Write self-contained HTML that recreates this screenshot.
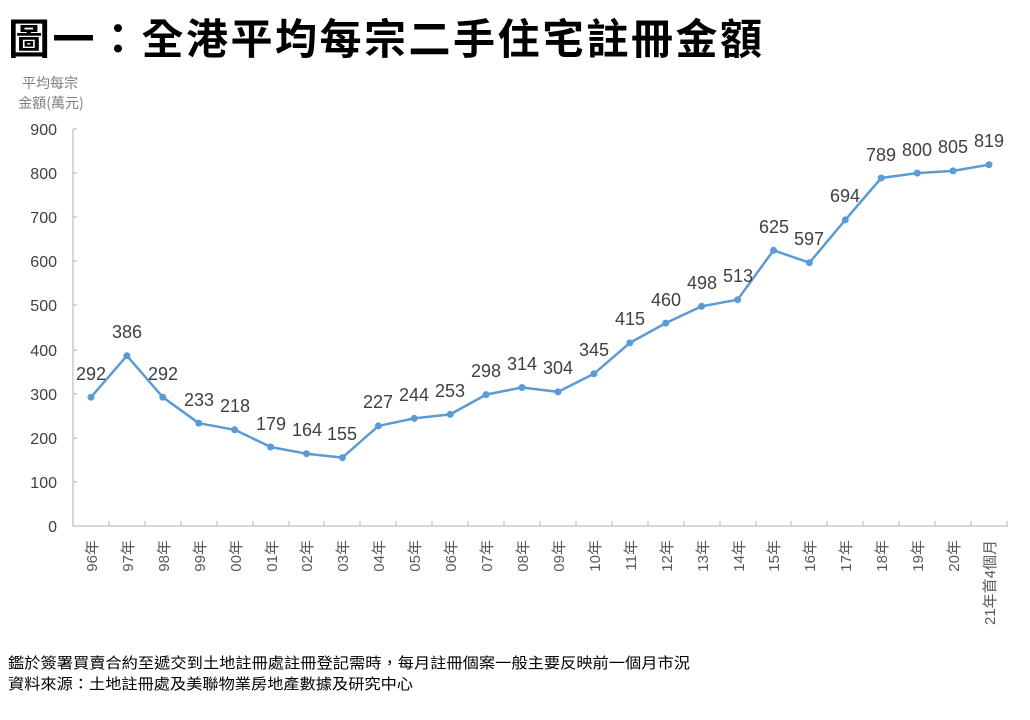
<!DOCTYPE html>
<html><head><meta charset="utf-8"><style>
body{margin:0;background:#fff;width:1030px;height:715px;overflow:hidden;font-family:"Liberation Sans","Noto Sans CJK TC",sans-serif}
</style></head><body>
<svg width="1030" height="715" viewBox="0 0 1030 715" xmlns="http://www.w3.org/2000/svg" font-family="Liberation Sans, Noto Sans CJK TC, sans-serif">
<text x="8" y="54" font-size="42" font-weight="bold" fill="#000" textLength="754" lengthAdjust="spacing" font-family="Noto Sans CJK TC, sans-serif">圖一：全港平均每宗二手住宅註冊金額</text>
<text x="50" y="88" font-size="14" fill="#7f7f7f" text-anchor="middle" font-family="Noto Sans CJK TC, sans-serif">平均每宗</text>
<text x="51" y="108" font-size="14" fill="#7f7f7f" text-anchor="middle" font-family="Noto Sans CJK TC, sans-serif">金額(萬元)</text>
<g font-size="16" fill="#404040" text-anchor="end">
<text x="57" y="135">900</text><text x="57" y="179">800</text><text x="57" y="223">700</text><text x="57" y="267">600</text><text x="57" y="311">500</text><text x="57" y="356">400</text><text x="57" y="400">300</text><text x="57" y="444">200</text><text x="57" y="488">100</text><text x="57" y="532">0</text>
</g>
<g stroke="#bfbfbf" stroke-width="1.2" fill="none">
<path d="M73 129V526H1008"/>
<path d="M73 129h4M73 173h4M73 217h4M73 261h4M73 305h4M73 350h4M73 394h4M73 438h4M73 482h4"/>
<path d="M109 526v-5M145 526v-5M181 526v-5M217 526v-5M253 526v-5M289 526v-5M324 526v-5M360 526v-5M396 526v-5M432 526v-5M468 526v-5M504 526v-5M540 526v-5M576 526v-5M612 526v-5M648 526v-5M684 526v-5M720 526v-5M756 526v-5M791 526v-5M827 526v-5M863 526v-5M899 526v-5M935 526v-5M971 526v-5M1007 526v-5"/>
</g>
<polyline fill="none" stroke="#5b9bd5" stroke-width="2.5" stroke-linejoin="round" points="91,397.2 126.9,355.7 162.8,397.2 198.8,423.2 234.7,429.8 270.6,447 306.5,453.7 342.4,457.6 378.4,425.9 414.3,418.4 450.2,414.4 486.1,394.6 522,387.5 558,391.9 593.9,373.8 629.8,342.9 665.7,323.1 701.6,306.3 737.6,299.7 773.5,250.3 809.4,262.7 845.3,219.9 881.2,178 917.2,173.1 953.1,170.9 989,164.7"/>
<g fill="#5b9bd5">
<circle cx="91" cy="397.2" r="3.5"/><circle cx="126.9" cy="355.7" r="3.5"/><circle cx="162.8" cy="397.2" r="3.5"/><circle cx="198.8" cy="423.2" r="3.5"/><circle cx="234.7" cy="429.8" r="3.5"/><circle cx="270.6" cy="447" r="3.5"/><circle cx="306.5" cy="453.7" r="3.5"/><circle cx="342.4" cy="457.6" r="3.5"/><circle cx="378.4" cy="425.9" r="3.5"/><circle cx="414.3" cy="418.4" r="3.5"/><circle cx="450.2" cy="414.4" r="3.5"/><circle cx="486.1" cy="394.6" r="3.5"/><circle cx="522" cy="387.5" r="3.5"/><circle cx="558" cy="391.9" r="3.5"/><circle cx="593.9" cy="373.8" r="3.5"/><circle cx="629.8" cy="342.9" r="3.5"/><circle cx="665.7" cy="323.1" r="3.5"/><circle cx="701.6" cy="306.3" r="3.5"/><circle cx="737.6" cy="299.7" r="3.5"/><circle cx="773.5" cy="250.3" r="3.5"/><circle cx="809.4" cy="262.7" r="3.5"/><circle cx="845.3" cy="219.9" r="3.5"/><circle cx="881.2" cy="178" r="3.5"/><circle cx="917.2" cy="173.1" r="3.5"/><circle cx="953.1" cy="170.9" r="3.5"/><circle cx="989" cy="164.7" r="3.5"/>
</g>
<g font-size="18" fill="#404040" text-anchor="middle">
<text x="91" y="380">292</text><text x="127" y="338">386</text><text x="163" y="380">292</text><text x="199" y="406">233</text><text x="235" y="412">218</text><text x="271" y="430">179</text><text x="307" y="436">164</text><text x="342" y="440">155</text><text x="378" y="408">227</text><text x="414" y="401">244</text><text x="450" y="397">253</text><text x="486" y="377">298</text><text x="522" y="370">314</text><text x="558" y="374">304</text><text x="594" y="356">345</text><text x="630" y="325">415</text><text x="666" y="306">460</text><text x="702" y="289">498</text><text x="738" y="282">513</text><text x="774" y="233">625</text><text x="809" y="245">597</text><text x="845" y="202">694</text><text x="881" y="161">789</text><text x="917" y="156">800</text><text x="953" y="153">805</text><text x="989" y="147">819</text>
</g>
<g font-size="15" fill="#595959" text-anchor="end">
<text transform="translate(97,540) rotate(-90)">96年</text>
<text transform="translate(133,540) rotate(-90)">97年</text>
<text transform="translate(169,540) rotate(-90)">98年</text>
<text transform="translate(205,540) rotate(-90)">99年</text>
<text transform="translate(241,540) rotate(-90)">00年</text>
<text transform="translate(277,540) rotate(-90)">01年</text>
<text transform="translate(312,540) rotate(-90)">02年</text>
<text transform="translate(348,540) rotate(-90)">03年</text>
<text transform="translate(384,540) rotate(-90)">04年</text>
<text transform="translate(420,540) rotate(-90)">05年</text>
<text transform="translate(456,540) rotate(-90)">06年</text>
<text transform="translate(492,540) rotate(-90)">07年</text>
<text transform="translate(528,540) rotate(-90)">08年</text>
<text transform="translate(564,540) rotate(-90)">09年</text>
<text transform="translate(600,540) rotate(-90)">10年</text>
<text transform="translate(636,540) rotate(-90)">11年</text>
<text transform="translate(672,540) rotate(-90)">12年</text>
<text transform="translate(708,540) rotate(-90)">13年</text>
<text transform="translate(744,540) rotate(-90)">14年</text>
<text transform="translate(779,540) rotate(-90)">15年</text>
<text transform="translate(815,540) rotate(-90)">16年</text>
<text transform="translate(851,540) rotate(-90)">17年</text>
<text transform="translate(887,540) rotate(-90)">18年</text>
<text transform="translate(923,540) rotate(-90)">19年</text>
<text transform="translate(959,540) rotate(-90)">20年</text>
<text transform="translate(995,540) rotate(-90)">21年首4個月</text>
</g>
<text x="8" y="668" font-size="15" fill="#000" textLength="682" lengthAdjust="spacingAndGlyphs" font-family="Noto Sans CJK TC, sans-serif">鑑於簽署買賣合約至遞交到土地註冊處註冊登記需時，每月註冊個案一般主要反映前一個月市況</text>
<text x="8" y="689" font-size="15" fill="#000" textLength="405" lengthAdjust="spacingAndGlyphs" font-family="Noto Sans CJK TC, sans-serif">資料來源：土地註冊處及美聯物業房地產數據及研究中心</text>
</svg>
</body></html>
